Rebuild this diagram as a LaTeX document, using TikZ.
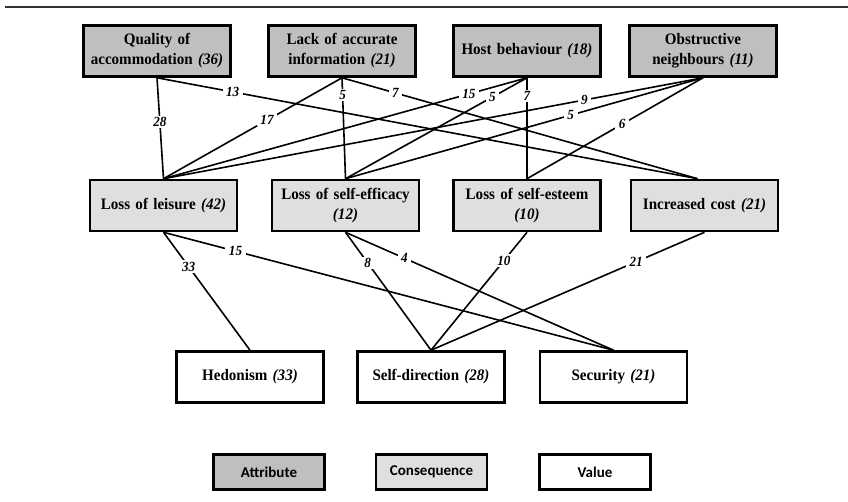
\documentclass[tikz,border=0pt]{standalone}
\usepackage{fontspec}
\usepackage{xcolor}
\usepackage{tikz}
\setmainfont[FakeStretch=0.94]{Liberation Serif}
\newfontfamily\legendfont{Carlito}
\usetikzlibrary{positioning}
\definecolor{attrgray}{gray}{0.75}
\definecolor{consgray}{gray}{0.875}

\begin{document}
\begin{tikzpicture}[
    x=1pt, y=-1pt,
    box/.style={rectangle, draw=black, line width=2.6pt, minimum width=147pt, minimum height=51pt,
        text width=142pt, align=center, inner sep=0, font=\fontsize{16}{20}\selectfont\bfseries},
    attr/.style={box, fill=attrgray},
    cons/.style={box, fill=consgray},
    valu/.style={box, fill=white},
    key/.style={rectangle, draw=black, line width=2.6pt, minimum width=111pt, minimum height=35pt,
        inner sep=0, font=\legendfont\fontsize{15}{17}\selectfont\bfseries},
    link/.style={draw=black, line width=1.6pt},
    wt/.style={fill=white, inner xsep=3.5pt, inner ysep=1.5pt, font=\fontsize{14}{14}\selectfont\bfseries\itshape}]

\useasboundingbox (0,0) rectangle (848,502);
\path[draw, line width=1.3pt, black!80] (5,7) -- (848,7);

% attributes
\node[attr] (qual) at (157,51) {Quality of\\ accommodation \textit{(36)}};
\node[attr] (lack) at (342,51) {Lack of accurate\\ information \textit{(21)}};
\node[attr] (host) at (527,51) {Host behaviour \textit{(18)}};
\node[attr] (obst) at (703,51) {Obstructive\\ neighbours \textit{(11)}};

% consequences
\node[cons] (leis) at (163.5,205.5) {Loss of leisure \textit{(42)}};
\node[cons] (effi) at (345.5,205.5) {Loss of self-efficacy\\ \textit{(12)}};
\node[cons] (este) at (527,205.5) {Loss of self-esteem\\ \textit{(10)}};
\node[cons] (cost) at (704.5,205.5) {Increased cost \textit{(21)}};

% values
\node[valu] (hedo) at (250,377) {Hedonism \textit{(33)}};
\node[valu] (sedi) at (431,377) {Self-direction \textit{(28)}};
\node[valu] (secu) at (613.5,377) {Security \textit{(21)}};

% legend
\node[key, fill=attrgray] (kattr) at (269,472) {Attribute};
\node[key, fill=consgray] (kcons) at (431.5,472) {Consequence};
\node[key, fill=white] (kvalu) at (595,472) {Value};

% attribute -> consequence
\path[link] (qual.south) -- node[wt, pos=.44] {28} (leis.north);
\path[link] (qual.south) -- node[wt, pos=.14] {13} ([xshift=-7pt]cost.north);
\path[link] (lack.south) -- node[wt, pos=.42] {17} (leis.north);
\path[link] (lack.south) -- node[wt, pos=.17] {5} (effi.north);
\path[link] (lack.south) -- node[wt, pos=.15] {7} ([xshift=-7pt]cost.north);
\path[link] (host.south) -- node[wt, pos=.16] {15} (leis.north);
\path[link] (host.south) -- node[wt, pos=.19] {5} (effi.north);
\path[link] (host.south) -- node[wt, pos=.18] {7} (este.north);
\path[link] (obst.south) -- node[wt, pos=.22] {9} (leis.north);
\path[link] (obst.south) -- node[wt, pos=.37] {5} (effi.north);
\path[link] (obst.south) -- node[wt, pos=.46] {6} (este.north);

% consequence -> value
\path[link] (leis.south) -- node[wt, pos=.29] {33} (hedo.north);
\path[link] (leis.south) -- node[wt, pos=.16] {15} (secu.north);
\path[link] (effi.south) -- node[wt, pos=.26] {8} (sedi.north);
\path[link] (effi.south) -- node[wt, pos=.22] {4} (secu.north);
\path[link] (este.south) -- node[wt, pos=.24] {10} (sedi.north);
\path[link] (cost.south) -- node[wt, pos=.25] {21} (sedi.north);

\end{tikzpicture}
\end{document}
